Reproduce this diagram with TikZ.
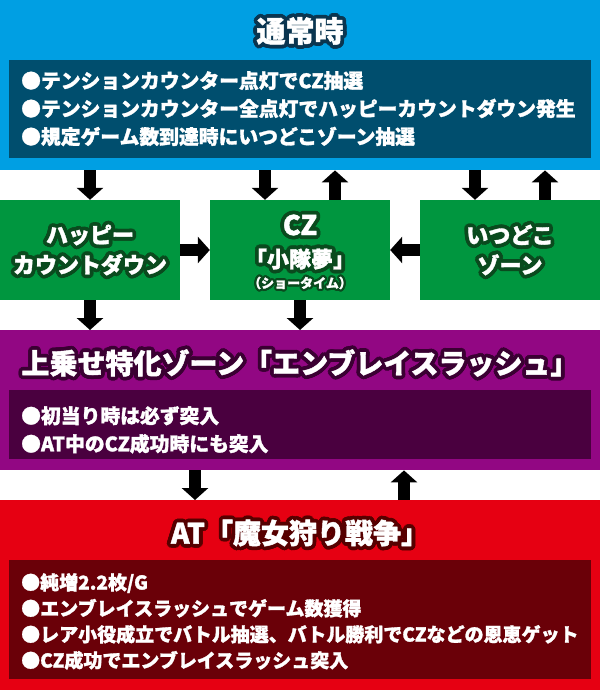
\documentclass[tikz,border=0pt]{standalone}
\usepackage{fontspec}
\setmainfont{Noto Sans CJK JP}[BoldFeatures={FakeBold=1.5}]
\usetikzlibrary{arrows.meta}
\definecolor{skyband}{HTML}{009FE3}
\definecolor{skybox}{HTML}{004E6E}
\definecolor{skyrim}{HTML}{0A3550}
\definecolor{leaf}{HTML}{00963F}
\definecolor{leafrim}{HTML}{0A4A1E}
\definecolor{plum}{HTML}{920783}
\definecolor{plumbox}{HTML}{4A003F}
\definecolor{plumrim}{HTML}{3A0032}
\definecolor{scarlet}{HTML}{E60012}
\definecolor{scarletbox}{HTML}{6A0008}
\definecolor{scarletrim}{HTML}{560000}
\tikzset{
  rim/.store in=\rimlen, rim=3.8pt,
  band/.style={fill=#1, draw=none, minimum width=600pt, inner sep=0pt, anchor=north},
  listbox/.style={fill=#1, draw=none, minimum width=582pt, inner sep=0pt, anchor=north},
  zone/.style={fill=leaf, draw=none, minimum width=180pt, minimum height=100pt, inner sep=0pt},
  zonetext/.style={align=center, inner sep=0pt, font=\fontsize{22}{30}\selectfont\bfseries},
  headline/.style={inner sep=0pt, font=\fontsize{28}{30}\selectfont\bfseries},
  listtext/.style={text=white, inner sep=0pt, anchor=north west, align=left,
    font=\fontsize{19.8}{28}\selectfont\bfseries},
  fat/.style={line width=12pt, -{Triangle[width=26pt,length=12pt]}},
}
% white text with a dark rim: dark copies all round, white on top
\newcommand\rimtext[5][]{%
  \foreach \a in {0,22.5,...,337.5}
    \node[#1, text=#4, shift={(\a:\rimlen)}] at (#3) {#5};
  \node[#1, text=white] (#2) at (#3) {#5};}
\begin{document}
\begin{tikzpicture}[x=1pt,y=-1pt]
\useasboundingbox (0,0) rectangle (600,690);
% normal state
\node[band=skyband, minimum height=170pt] (normal) at (300,0) {};
\rimtext[headline, font=\fontsize{29}{30}\selectfont\bfseries]{normaltitle}{300,31}{skyrim}{通常時}
\node[listbox=skybox, minimum height=98pt] (normalbox) at (300,60) {};
\node[listtext] (normaltext) at (21,71) {●テンションカウンター点灯でCZ抽選\\
  ●テンションカウンター全点灯でハッピーカウントダウン発生\\
  ●規定ゲーム数到達時にいつどこゾーン抽選};
% the three zones
\node[zone] (hcd) at (90,250) {};
\rimtext[zonetext]{hcdtext}{90,250}{leafrim}{ハッピー\\カウントダウン}
\node[zone] (cz) at (300,250) {};
\rimtext[zonetext, font=\fontsize{27}{30}\selectfont\bfseries]{cztitle}{300,225}{leafrim}{CZ}
\rimtext[zonetext]{czname}{300,259}{leafrim}{「小隊夢」}
\rimtext[zonetext, rim=2.2pt, font=\fontsize{13}{14}\selectfont\bfseries]{czsub}{300,283}{leafrim}{（ショータイム）}
\node[zone] (itsudoko) at (510,250) {};
\rimtext[zonetext]{itsudokotext}{510,250}{leafrim}{いつどこ\\ゾーン}
% embrace rush
\node[band=plum, minimum height=140pt] (rush) at (300,330) {};
\rimtext[headline]{rushtitle}{300,363}{plumrim}{上乗せ特化ゾーン「エンブレイスラッシュ」}
\node[listbox=plumbox, minimum height=69pt] (rushbox) at (300,390) {};
\node[listtext] (rushtext) at (21,406) {●初当り時は必ず突入\\
  ●AT中のCZ成功時にも突入};
% AT
\node[band=scarlet, minimum height=190pt] (witch) at (300,500) {};
\rimtext[headline]{witchtitle}{300,533}{scarletrim}{AT「魔女狩り戦争」}
\node[listbox=scarletbox, minimum height=119pt] (witchbox) at (300,560) {};
\node[listtext, font=\fontsize{19}{26}\selectfont\bfseries] (witchtext) at (21,573) {●純増2.2枚/G\\
  ●エンブレイスラッシュでゲーム数獲得\\
  ●レア小役成立でバトル抽選、バトル勝利でCZなどの恩恵ゲット\\
  ●CZ成功でエンブレイスラッシュ突入};
% arrows
\draw[fat] (hcd.north |- normal.south) -- (hcd.north);
\draw[fat] ([xshift=-35pt]cz.north |- normal.south) -- ([xshift=-35pt]cz.north);
\draw[fat] ([xshift=35pt]cz.north) -- ([xshift=35pt]cz.north |- normal.south);
\draw[fat] ([xshift=-35pt]itsudoko.north |- normal.south) -- ([xshift=-35pt]itsudoko.north);
\draw[fat] ([xshift=35pt]itsudoko.north) -- ([xshift=35pt]itsudoko.north |- normal.south);
\draw[fat] (hcd.east) -- (cz.west);
\draw[fat] (itsudoko.west) -- (cz.east);
\draw[fat] (hcd.south) -- (hcd.south |- rush.north);
\draw[fat] (cz.south) -- (cz.south |- rush.north);
\draw[fat] ([xshift=-105pt]rush.south) -- ([xshift=-105pt]rush.south |- witch.north);
\draw[fat] ([xshift=104pt]witch.north) -- ([xshift=104pt]witch.north |- rush.south);
\end{tikzpicture}
\end{document}
